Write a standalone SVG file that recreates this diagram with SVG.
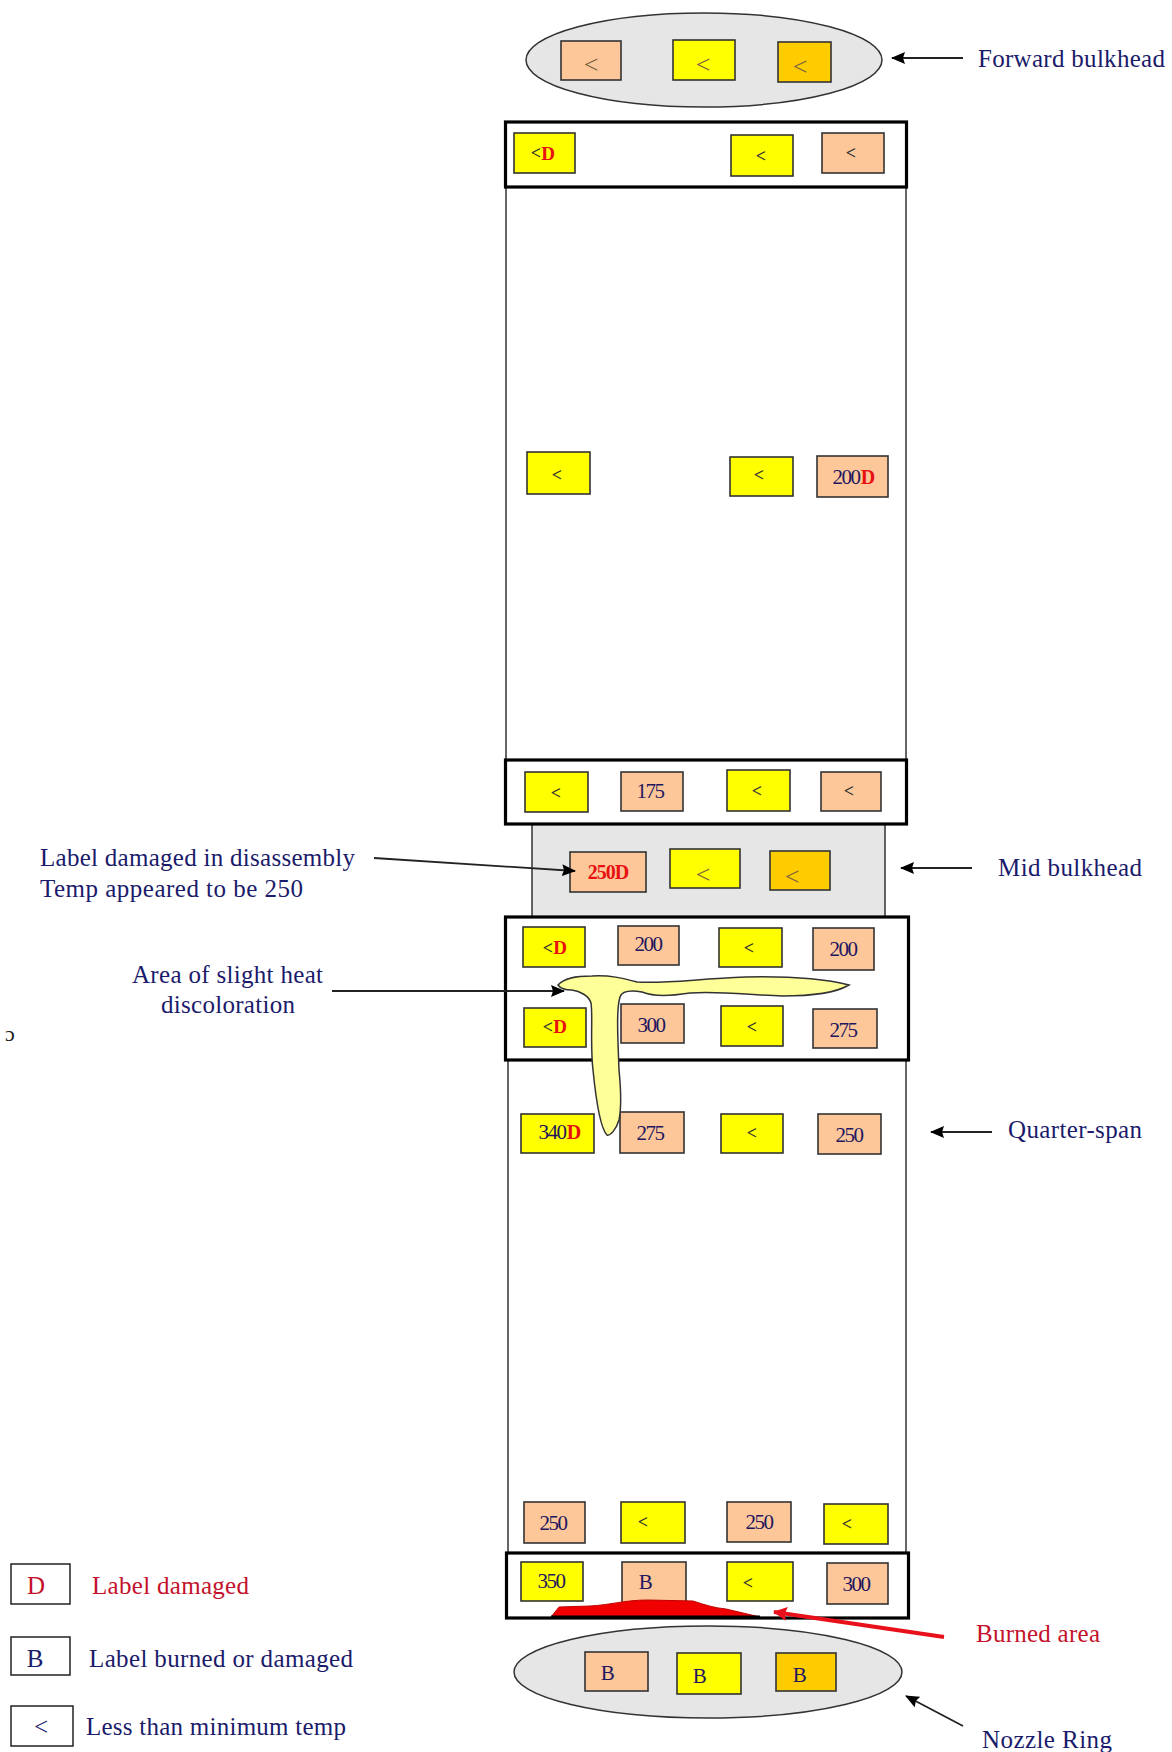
<svg xmlns="http://www.w3.org/2000/svg" width="1172" height="1752" viewBox="0 0 1172 1752">
<defs>
<marker id="ah" markerUnits="userSpaceOnUse" markerWidth="14" markerHeight="12" refX="13" refY="6" orient="auto"><path d="M0 0L14 6L0 12L2 6Z" fill="#000"/></marker>
<marker id="ahr" markerUnits="userSpaceOnUse" markerWidth="14" markerHeight="14" refX="13" refY="7" orient="auto"><path d="M0 0L14 7L0 14L2 7Z" fill="#e8101a"/></marker>
</defs>
<style>
text{font-family:"Liberation Serif","Times New Roman",serif}
.p{fill:#fdc79a;stroke:#333;stroke-width:1.6}
.y{fill:#ffff00;stroke:#333;stroke-width:1.6}
.o{fill:#ffcc00;stroke:#333;stroke-width:1.6}
.frame{fill:#fff;stroke:#000;stroke-width:3.2}
.body{fill:#fff;stroke:#333;stroke-width:1.5}
.grey{fill:#e6e6e6;stroke:#333;stroke-width:1.5}
.leg{fill:#fff;stroke:#222;stroke-width:1.5}
.lab{font-size:25px;fill:#1b1b6b}
.red{font-size:25px;fill:#c4122c}
.lt{font-size:18px;font-weight:bold;fill:#333;text-anchor:middle}
.big{font-size:26px;fill:#7a6040;text-anchor:middle}
.n{font-size:21px;fill:#22165e;text-anchor:middle;letter-spacing:-1.5px}
.d{fill:#e81010;font-weight:bold}
.ln{fill:none;stroke:#222;stroke-width:1.8}
</style>
<text x="5" y="1041" font-size="22" fill="#222">ɔ</text>

<g id="forward-bulkhead">
<ellipse class="grey" cx="704" cy="60" rx="178" ry="47"/>
<rect class="p" x="561" y="41" width="60" height="39"/><text class="big" x="591" y="73">&lt;</text>
<rect class="y" x="673" y="40" width="62" height="40"/><text class="big" x="703" y="73">&lt;</text>
<rect class="o" x="778" y="42" width="53" height="40"/><text class="big" x="800" y="75">&lt;</text>
</g>
<g id="upper-body"><rect class="body" x="506" y="187" width="400" height="573"/></g>
<g id="forward-frame">
<rect class="frame" x="505.500" y="122" width="401" height="65"/>
<rect class="y" x="514" y="133" width="61" height="40"/><text class="lt" x="536" y="159">&lt;</text><text class="d" x="548" y="160" font-size="19" text-anchor="middle">D</text>
<rect class="y" x="731" y="135" width="62" height="41"/><text class="lt" x="761" y="162">&lt;</text>
<rect class="p" x="822" y="133" width="62" height="40"/><text class="lt" x="851" y="159">&lt;</text>
</g>
<g id="upper-row">
<rect class="y" x="527" y="452" width="63" height="42"/><text class="lt" x="557" y="481">&lt;</text>
<rect class="y" x="730" y="457" width="63" height="39"/><text class="lt" x="759" y="481">&lt;</text>
<rect class="p" x="817" y="456" width="71" height="41"/><text class="n" x="846" y="484">200</text><text class="d" x="868" y="484" font-size="20" text-anchor="middle">D</text>
</g>
<g id="mid-bulkhead">
<rect class="grey" x="532" y="824" width="353" height="93"/>
<rect class="p" x="570" y="852" width="76" height="40"/><text class="d" x="608" y="879" font-size="20" text-anchor="middle" letter-spacing="-1">250D</text>
<rect class="y" x="670" y="849" width="70" height="39"/><text class="big" x="703" y="883">&lt;</text>
<rect class="o" x="770" y="851" width="60" height="39"/><text class="big" x="792" y="885">&lt;</text>
</g>
<g id="mid-frame-upper">
<rect class="frame" x="505.500" y="760" width="401" height="64"/>
<rect class="y" x="525" y="772" width="63" height="40"/><text class="lt" x="556" y="799">&lt;</text>
<rect class="p" x="621" y="772" width="62" height="39"/><text class="n" x="650" y="798">175</text>
<rect class="y" x="727" y="770" width="63" height="41"/><text class="lt" x="757" y="797">&lt;</text>
<rect class="p" x="821" y="772" width="60" height="39"/><text class="lt" x="849" y="797">&lt;</text>
</g>
<g id="lower-body"><rect class="body" x="508" y="1060" width="398" height="493"/></g>
<g id="mid-frame-lower">
<rect class="frame" x="505.500" y="917" width="403" height="143"/>
<rect class="y" x="523" y="927" width="62" height="40"/><text class="lt" x="548" y="954">&lt;</text><text class="d" x="560" y="954" font-size="19" text-anchor="middle">D</text>
<rect class="p" x="618" y="926" width="61" height="39"/><text class="n" x="648" y="951">200</text>
<rect class="y" x="719" y="928" width="63" height="39"/><text class="lt" x="749" y="954">&lt;</text>
<rect class="p" x="813" y="928" width="61" height="42"/><text class="n" x="843" y="956">200</text>
<rect class="y" x="524" y="1008" width="62" height="39"/><text class="lt" x="548" y="1033">&lt;</text><text class="d" x="560" y="1033" font-size="19" text-anchor="middle">D</text>
<rect class="p" x="621" y="1004" width="63" height="39"/><text class="n" x="651" y="1032">300</text>
<rect class="y" x="721" y="1006" width="62" height="40"/><text class="lt" x="752" y="1033">&lt;</text>
<rect class="p" x="813" y="1009" width="64" height="39"/><text class="n" x="843" y="1037">275</text>
</g>
<g id="quarter-span">
<rect class="y" x="521" y="1114" width="73" height="39"/><text class="n" x="552" y="1139">340</text><text class="d" x="574" y="1139" font-size="20" text-anchor="middle">D</text>
<rect class="p" x="620" y="1112" width="64" height="41"/><text class="n" x="650" y="1140">275</text>
<rect class="y" x="721" y="1114" width="62" height="39"/><text class="lt" x="752" y="1139">&lt;</text>
<rect class="p" x="818" y="1114" width="63" height="40"/><text class="n" x="849" y="1142">250</text>
</g>
<g id="lower-row">
<rect class="p" x="524" y="1502" width="61" height="41"/><text class="n" x="553" y="1530">250</text>
<rect class="y" x="621" y="1502" width="64" height="41"/><text class="lt" x="643" y="1528">&lt;</text>
<rect class="p" x="727" y="1502" width="64" height="40"/><text class="n" x="759" y="1529">250</text>
<rect class="y" x="824" y="1504" width="64" height="40"/><text class="lt" x="847" y="1530">&lt;</text>
</g>
<g id="aft-frame">
<rect class="frame" x="506.500" y="1553" width="402" height="65"/>
<rect class="y" x="521" y="1562" width="62" height="39"/><text class="n" x="551" y="1588">350</text>
<rect class="p" x="622" y="1562" width="64" height="42"/><text class="n" x="645" y="1589">B</text>
<rect class="y" x="727" y="1562" width="66" height="39"/><text class="lt" x="748" y="1589">&lt;</text>
<rect class="p" x="827" y="1563" width="61" height="41"/><text class="n" x="856" y="1591">300</text>
</g>
<g id="heat-discoloration">
<path d="M558 985C564 978 575 976 592 976C610 975 622 978 637 982C665 984 695 979 745 977C790 976 825 979 849 985C835 993 815 996 782 996C750 995 720 991 690 993C670 996 655 997 642 992C630 990 622 991 620 997C616 1010 618 1040 619 1070C621 1090 622 1105 619 1120C616 1130 610 1136 607 1135C600 1128 596 1100 593 1070C590 1045 593 1015 591 1003C589 996 580 991 572 990C564 990 560 988 558 985Z" fill="#ffff99" stroke="#333" stroke-width="1.5"/>
</g>
<g id="burned-area">
<path d="M551 1617L559 1607L590 1606C610 1605 625 1600 648 1600L693 1601C705 1605 715 1608 726 1609L760 1617Z" fill="#f00000" stroke="#c00000" stroke-width="1"/>
<line x1="551" y1="1617" x2="760" y2="1617" stroke="#000" stroke-width="3"/>
</g>
<g id="nozzle-ring">
<ellipse class="grey" cx="708" cy="1672" rx="194" ry="46"/>
<rect class="p" x="585" y="1652" width="63" height="39"/><text class="n" x="607" y="1680">B</text>
<rect class="y" x="677" y="1653" width="64" height="41"/><text class="n" x="699" y="1683">B</text>
<rect class="o" x="776" y="1653" width="60" height="38"/><text class="n" x="799" y="1682">B</text>
</g>

<g id="connectors">
<line class="ln" x1="963" y1="58" x2="892" y2="58" marker-end="url(#ah)"/>
<line class="ln" x1="972" y1="868" x2="901" y2="868" marker-end="url(#ah)"/>
<line class="ln" x1="992" y1="1132" x2="931" y2="1132" marker-end="url(#ah)"/>
<line class="ln" x1="374" y1="858" x2="575" y2="871" marker-end="url(#ah)"/>
<line class="ln" x1="332" y1="991" x2="564" y2="991" marker-end="url(#ah)"/>
<line x1="944" y1="1637" x2="774" y2="1612" fill="none" stroke="#e8101a" stroke-width="4" marker-end="url(#ahr)"/>
<line class="ln" x1="963" y1="1726" x2="906" y2="1696" marker-end="url(#ah)"/>
</g>

<g id="labels">
<text class="lab" x="978" y="67" textLength="187">Forward bulkhead</text>
<text class="lab" x="998" y="876" textLength="144">Mid bulkhead</text>
<text class="lab" x="1008" y="1138" textLength="134">Quarter-span</text>
<text class="lab" x="40" y="866" textLength="315">Label damaged in disassembly</text>
<text class="lab" x="40" y="897" textLength="263">Temp appeared to be 250</text>
<text class="lab" x="132" y="983" textLength="191">Area of slight heat</text>
<text class="lab" x="161" y="1013" textLength="134">discoloration</text>
<text class="red" x="976" y="1642" textLength="124">Burned area</text>
<text class="lab" x="982" y="1748" textLength="130">Nozzle Ring</text>
</g>

<g id="legend-damaged">
<rect class="leg" x="11" y="1564" width="59" height="40"/>
<text class="red" x="36" y="1594" text-anchor="middle">D</text>
<text class="red" x="92" y="1594" textLength="157">Label damaged</text>
</g>
<g id="legend-burned">
<rect class="leg" x="11" y="1637" width="59" height="38"/>
<text class="lab" x="35" y="1667" text-anchor="middle">B</text>
<text class="lab" x="89" y="1667" textLength="264">Label burned or damaged</text>
</g>
<g id="legend-less">
<rect class="leg" x="11" y="1706" width="62" height="40"/>
<text class="lab" x="41" y="1735" text-anchor="middle" fill="#667">&lt;</text>
<text class="lab" x="86" y="1735" textLength="260">Less than minimum temp</text>
</g>
</svg>
